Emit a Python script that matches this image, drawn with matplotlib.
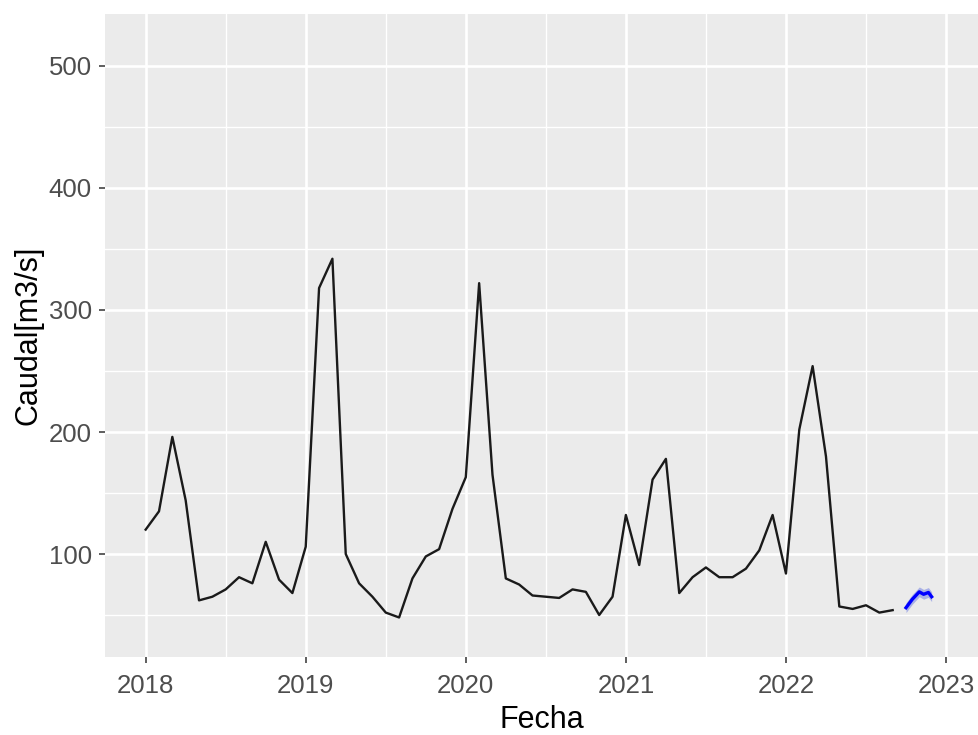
import matplotlib
matplotlib.use("Agg")
import matplotlib.pyplot as plt
import numpy as np

plt.rcParams['font.family'] = ['Liberation Sans', 'DejaVu Sans']

# Monthly flow series, Jan 2018 .. Sep 2022
start_year = 2018
caudal = [120, 135, 196, 144, 62, 65, 71, 81, 76, 110, 79, 68,
          106, 318, 342, 100, 76, 65, 52, 48, 80, 98, 104, 137,
          163, 322, 165, 80, 75, 66, 65, 64, 71, 69, 50, 65,
          132, 91, 161, 178, 68, 81, 89, 81, 81, 88, 103, 132,
          84, 202, 254, 180, 57, 55, 58, 52, 54]

# Forecast (decimal year, mean, low, high)
fc_time = [2022.75, 2022.79, 2022.833, 2022.86, 2022.89, 2022.91]
fc_mean = [56, 63, 69, 67, 68.5, 65]
fc_low = [52, 59, 65, 63, 64.5, 61]
fc_high = [60, 67, 73, 71, 72.5, 69]

x_ticks = [2018, 2019, 2020, 2021, 2022, 2023]
y_ticks = [100, 200, 300, 400, 500]

t = start_year + np.arange(len(caudal)) / 12.0

fig = plt.figure(figsize=(9.79, 7.35), dpi=100)
ax = fig.add_axes([105/979, 1-657/735, 1-105/979, (657-14)/735])
ax.set_facecolor('#EBEBEB')

ax.set_xticks(x_ticks)
ax.set_xticks([x + 0.5 for x in x_ticks[:-1]], minor=True)
ax.set_yticks(y_ticks)
ax.set_yticks([50, 150, 250, 350, 450], minor=True)

ax.set_xlim(2017.746, 2023.206)
ax.set_ylim(15.6, 542.6)

ax.grid(which='major', color='white', linewidth=1.9)
ax.grid(which='minor', color='white', linewidth=1.0)
ax.set_axisbelow(True)
for s in ax.spines.values():
    s.set_visible(False)

ax.tick_params(which='major', length=4.5, width=1.1, color='#333333',
               labelsize=18.5, labelcolor='#4D4D4D', pad=5)
ax.tick_params(axis='x', which='major', pad=8)
ax.tick_params(which='minor', length=0)

ax.plot(t, caudal, color='#1A1A1A', linewidth=1.7, zorder=3)
ax.fill_between(fc_time, fc_low, fc_high, color='#5A6BE0', alpha=0.45,
                linewidth=0, zorder=3)
ax.plot(fc_time, fc_mean, color='#0000FF', linewidth=2.4, zorder=4)

ax.set_xlabel('Fecha', fontsize=22, color='black', labelpad=5)
ax.set_ylabel('Caudal[m3/s]', fontsize=22, color='black', labelpad=4)

fig.savefig('out.png', dpi=100)
